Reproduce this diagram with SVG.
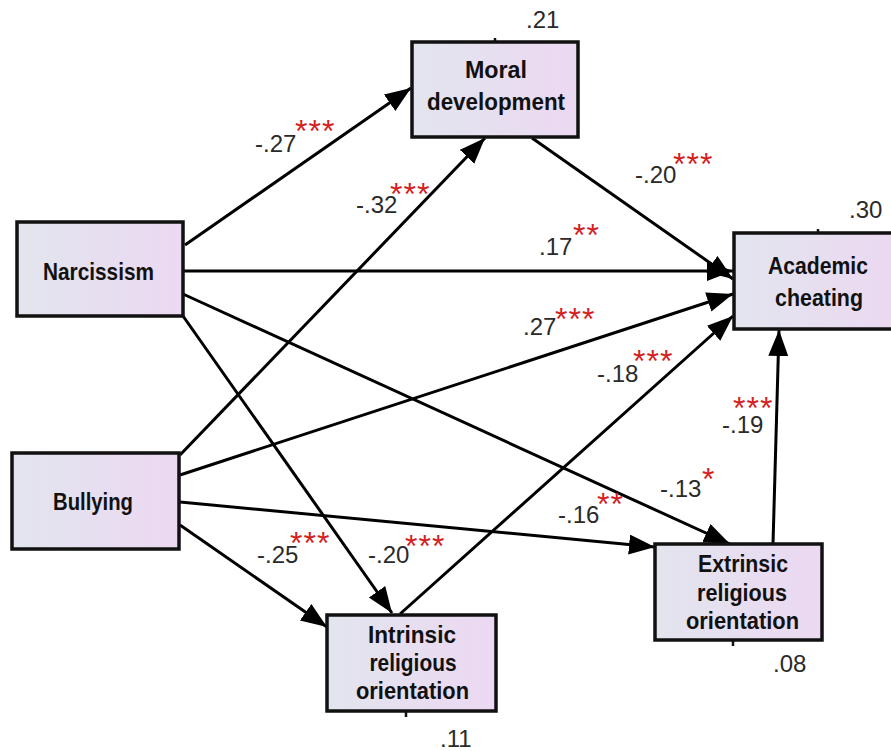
<svg xmlns="http://www.w3.org/2000/svg" width="891" height="751" viewBox="0 0 891 751">
<defs>
<linearGradient id="boxfill" x1="0" y1="0" x2="1" y2="0">
<stop offset="0" stop-color="#e2e5ee"/>
<stop offset="1" stop-color="#ecd8f2"/>
</linearGradient>
<marker id="arr" markerUnits="userSpaceOnUse" markerWidth="28" markerHeight="22" refX="26" refY="10" orient="auto">
<path d="M0,0 L26,10 L0,20 Z" fill="#000"/>
</marker>
<style>
.box{fill:url(#boxfill);stroke:#111;stroke-width:3.5}
.lbl{font-family:"Liberation Sans",Arial,sans-serif;font-weight:bold;font-size:24px;fill:#111;text-anchor:middle}
.num{font-family:"Liberation Sans",Arial,sans-serif;font-size:24px;fill:#2a2a2a}
.star{font-family:"Liberation Sans",Arial,sans-serif;font-size:32px;fill:#d42020;letter-spacing:1px}
.edge{stroke:#000;stroke-width:3;fill:none;marker-end:url(#arr)}
.tick{stroke:#111;stroke-width:2.5}
</style>
</defs>
<rect width="891" height="751" fill="#fff"/>
<g id="connectors">
<line class="edge" x1="185" y1="245" x2="411" y2="88"/>
<line class="edge" x1="180" y1="455" x2="485" y2="138"/>
<line class="edge" x1="532" y1="138" x2="733" y2="279"/>
<line class="edge" x1="183" y1="271" x2="733" y2="271"/>
<line class="edge" x1="180" y1="475" x2="733" y2="294"/>
<line class="edge" x1="400" y1="614" x2="733" y2="316"/>
<line class="edge" x1="773" y1="544" x2="779" y2="330"/>
<line class="edge" x1="183" y1="294" x2="730" y2="544"/>
<line class="edge" x1="183" y1="316" x2="392" y2="613"/>
<line class="edge" x1="180" y1="525" x2="327" y2="627"/>
<line class="edge" x1="180" y1="502" x2="655" y2="547"/>
</g>
<g id="narcissism">
<rect class="box" x="17" y="222" width="166" height="94"/>
<text class="lbl" x="98.5" y="280" textLength="111" lengthAdjust="spacingAndGlyphs">Narcissism</text>
</g>
<g id="bullying">
<rect class="box" x="12" y="453" width="167" height="96"/>
<text class="lbl" x="93" y="510" textLength="80" lengthAdjust="spacingAndGlyphs">Bullying</text>
</g>
<g id="moral">
<rect class="box" x="412" y="42" width="166" height="95"/>
<line class="tick" x1="495" y1="38" x2="495" y2="42"/>
<text class="lbl" x="496" y="78" textLength="62" lengthAdjust="spacingAndGlyphs">Moral</text>
<text class="lbl" x="496" y="110" textLength="138" lengthAdjust="spacingAndGlyphs">development</text>
<text class="num" x="526" y="28">.21</text>
</g>
<g id="academic">
<rect class="box" x="734" y="233" width="168" height="96"/>
<line class="tick" x1="818" y1="229" x2="818" y2="233"/>
<text class="lbl" x="818" y="274" textLength="100" lengthAdjust="spacingAndGlyphs">Academic</text>
<text class="lbl" x="819" y="306" textLength="88" lengthAdjust="spacingAndGlyphs">cheating</text>
<text class="num" x="849" y="218">.30</text>
</g>
<g id="intrinsic">
<rect class="box" x="327" y="615" width="169" height="96"/>
<line class="tick" x1="406" y1="711" x2="406" y2="717"/>
<text class="lbl" x="412" y="643" textLength="88" lengthAdjust="spacingAndGlyphs">Intrinsic</text>
<text class="lbl" x="413" y="671" textLength="87" lengthAdjust="spacingAndGlyphs">religious</text>
<text class="lbl" x="412.5" y="699" textLength="113" lengthAdjust="spacingAndGlyphs">orientation</text>
<text class="num" x="440" y="747">.11</text>
</g>
<g id="extrinsic">
<rect class="box" x="655" y="544" width="167" height="96"/>
<line class="tick" x1="733" y1="640" x2="733" y2="646"/>
<text class="lbl" x="743" y="572" textLength="90" lengthAdjust="spacingAndGlyphs">Extrinsic</text>
<text class="lbl" x="742" y="601" textLength="90" lengthAdjust="spacingAndGlyphs">religious</text>
<text class="lbl" x="742.5" y="629" textLength="113" lengthAdjust="spacingAndGlyphs">orientation</text>
<text class="num" x="773" y="672">.08</text>
</g>
<g id="labels">
<text class="num" x="255" y="152">-.27</text><text class="star" x="295" y="142">***</text>
<text class="num" x="356" y="213">-.32</text><text class="star" x="390" y="205">***</text>
<text class="num" x="635" y="183">-.20</text><text class="star" x="673" y="175">***</text>
<text class="num" x="539" y="255">.17</text><text class="star" x="573" y="246">**</text>
<text class="num" x="523" y="335">.27</text><text class="star" x="555" y="330">***</text>
<text class="num" x="597" y="382">-.18</text><text class="star" x="633" y="372">***</text>
<text class="num" x="722" y="433">-.19</text><text class="star" x="733" y="419">***</text>
<text class="num" x="660" y="497">-.13</text><text class="star" x="702" y="490">*</text>
<text class="num" x="558" y="523">-.16</text><text class="star" x="597" y="515">**</text>
<text class="num" x="257" y="563">-.25</text><text class="star" x="290" y="554">***</text>
<text class="num" x="368" y="563">-.20</text><text class="star" x="405" y="557">***</text>
</g>
</svg>
